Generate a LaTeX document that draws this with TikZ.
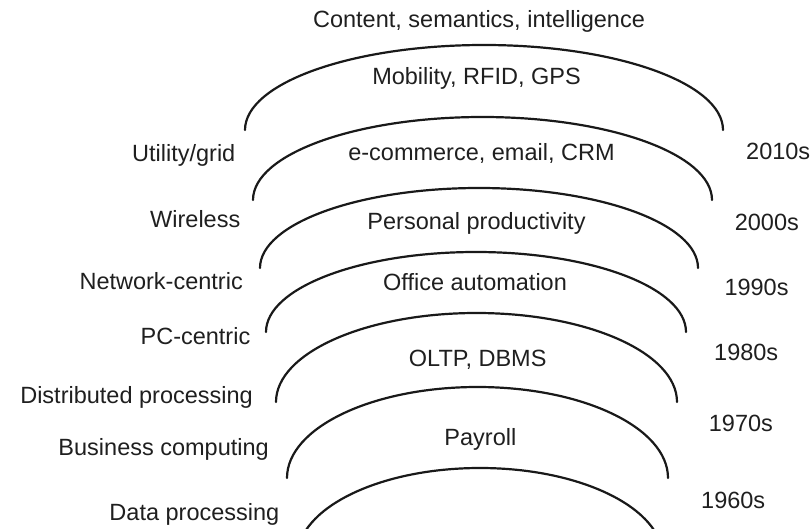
\documentclass[tikz,border=0pt]{standalone}
\usepackage{fontspec}
\setmainfont{Liberation Sans}
\begin{document}
\begin{tikzpicture}[x=1pt,y=-1pt,
  era/.style={line width=2.2pt, line cap=round, draw=black!90},
  lbl/.style={font=\fontsize{23.5}{28}\selectfont, inner sep=0pt, yscale=1.0, text=black!88, anchor=base},
  lft/.style={lbl, anchor=base east},
  rgt/.style={lbl, anchor=base west}]
\useasboundingbox (0,0) rectangle (811,529);

% arcs (half ellipses), from left end
\draw[era] (245,130) arc[start angle=180, end angle=0, x radius=239pt, y radius=85pt];
\draw[era] (253,200) arc[start angle=180, end angle=0, x radius=229.5pt, y radius=83pt];
\draw[era] (260,268) arc[start angle=180, end angle=0, x radius=219pt, y radius=80pt];
\draw[era] (266,332) arc[start angle=180, end angle=0, x radius=210pt, y radius=80pt];
\draw[era] (276,402) arc[start angle=180, end angle=0, x radius=200.5pt, y radius=89pt];
\draw[era] (287,478) arc[start angle=180, end angle=0, x radius=190.5pt, y radius=91pt];
\begin{scope}
\clip (0,0) rectangle (811,529);
\draw[era] (297,558) arc[start angle=180, end angle=0, x radius=183pt, y radius=90pt];
\end{scope}

% inner labels
\node[lbl] (content) at (479,28) {Content, semantics, intelligence};
\node[lbl] (mobility) at (476.5,85) {Mobility, RFID, GPS};
\node[lbl] (ecom) at (481.5,161) {e-commerce, email, CRM};
\node[lbl] (personal) at (476.5,230) {Personal productivity};
\node[lbl] (office) at (475,290.5) {Office automation};
\node[lbl] (oltp) at (477.7,366) {OLTP, DBMS};
\node[lbl] (payroll) at (480.4,445) {Payroll};

% left labels
\node[lft] (utility) at (235.5,161.5) {Utility/grid};
\node[lft] (wireless) at (240.5,228) {Wireless};
\node[lft] (network) at (243,290) {Network-centric};
\node[lft] (pc) at (250.5,344) {PC-centric};
\node[lft] (distrib) at (253,403) {Distributed processing};
\node[lft] (business) at (269,455) {Business computing};
\node[lft] (data) at (279.5,520) {Data processing};

% right labels
\node[rgt] (y2010) at (746,160) {2010s};
\node[rgt] (y2000) at (734.6,231) {2000s};
\node[rgt] (y1990) at (724.3,296) {1990s};
\node[rgt] (y1980) at (714,360) {1980s};
\node[rgt] (y1970) at (708.7,431.7) {1970s};
\node[rgt] (y1960) at (701,508) {1960s};
\end{tikzpicture}
\end{document}
